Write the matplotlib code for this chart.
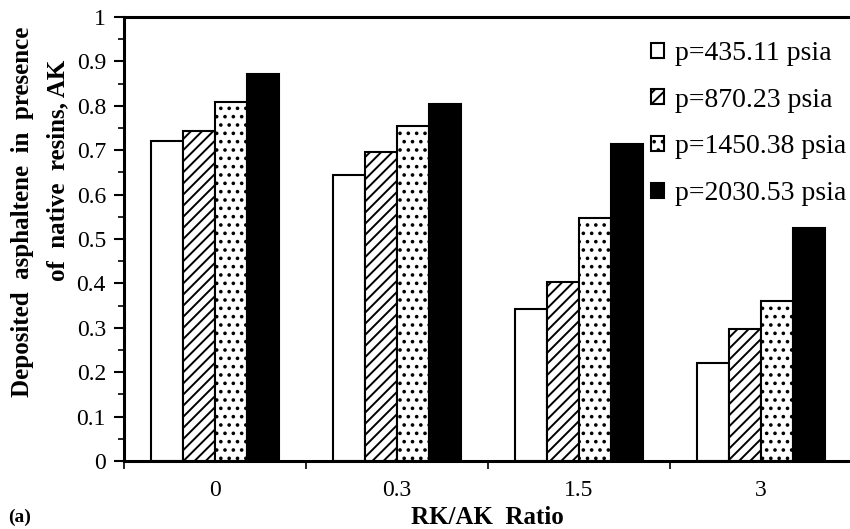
import matplotlib
matplotlib.use("Agg")
import matplotlib.pyplot as plt
import numpy as np
from matplotlib.ticker import MultipleLocator

plt.rcParams['font.family'] = ['Liberation Serif', 'DejaVu Serif']
plt.rcParams['hatch.linewidth'] = 1.4

categories = ['0', '0.3', '1.5', '3']
series_labels = ['p=435.11 psia', 'p=870.23 psia', 'p=1450.38 psia', 'p=2030.53 psia']
p435 = [0.72, 0.644, 0.342, 0.22]
p870 = [0.743, 0.696, 0.403, 0.297]
p1450 = [0.808, 0.755, 0.547, 0.36]
p2030 = [0.872, 0.804, 0.714, 0.525]
series = [p435, p870, p1450, p2030]

faces = ['white', 'white', 'white', 'black']
hatches = [None, '///', '..', None]

W, H = 850, 529
fig = plt.figure(figsize=(W / 100, H / 100), dpi=100)
ax = fig.add_axes([124 / W, 1 - 461 / H, (852 - 124) / W, (461 - 17) / H])

x = np.arange(len(categories))
w = 0.176
for i, (vals, fc, h, lab) in enumerate(zip(series, faces, hatches, series_labels)):
    ax.bar(x + (i - 1.5) * w, vals, width=w, facecolor=fc, edgecolor='black',
           hatch=h, linewidth=1.5, label=lab)

ax.set_xlim(-0.5, len(categories) - 0.5)
ax.set_ylim(0, 1)
ax.set_yticks(np.arange(0, 1.01, 0.1))
ax.set_yticklabels(['0', '0.1', '0.2', '0.3', '0.4', '0.5', '0.6', '0.7', '0.8', '0.9', '1'])
ax.yaxis.set_minor_locator(MultipleLocator(0.05))
ax.set_xticks(np.arange(-0.5, len(categories), 1.0))
ax.set_xticklabels([])
ax.set_xticks(x, minor=True)
ax.set_xticklabels(categories, minor=True)
ax.tick_params(axis='x', which='major', direction='out', length=6, width=1.2)
ax.tick_params(axis='x', which='minor', length=0, labelsize=17, pad=14)
ax.tick_params(axis='y', which='major', direction='out', length=7, width=1.5, labelsize=17, pad=6)
ax.tick_params(axis='y', which='minor', direction='out', length=4, width=1.2)
for s in ax.spines.values():
    s.set_linewidth(2.2)

fig.text(23 / W, 1 - 212 / H, 'Deposited  asphaltene  in  presence', rotation=90,
         ha='center', va='center', fontsize=18, fontweight='bold')
fig.text(58 / W, 1 - 170 / H, 'of  native  resins, AK', rotation=90,
         ha='center', va='center', fontsize=18, fontweight='bold')
fig.text(487 / W, 1 - 518 / H, 'RK/AK  Ratio', ha='center', va='center',
         fontsize=18, fontweight='bold')
fig.text(8 / W, 3 / H, '(a)', ha='left', va='bottom', fontsize=14, fontweight='bold')

leg = ax.legend(loc='upper right', bbox_to_anchor=(846 / W, 1 - 41 / H),
                bbox_transform=fig.transFigure, frameon=False,
                fontsize=20, handlelength=0.45, handleheight=0.45,
                handletextpad=0.4, labelspacing=0.78, borderpad=0, borderaxespad=0)

fig.savefig('out.png', dpi=100)
